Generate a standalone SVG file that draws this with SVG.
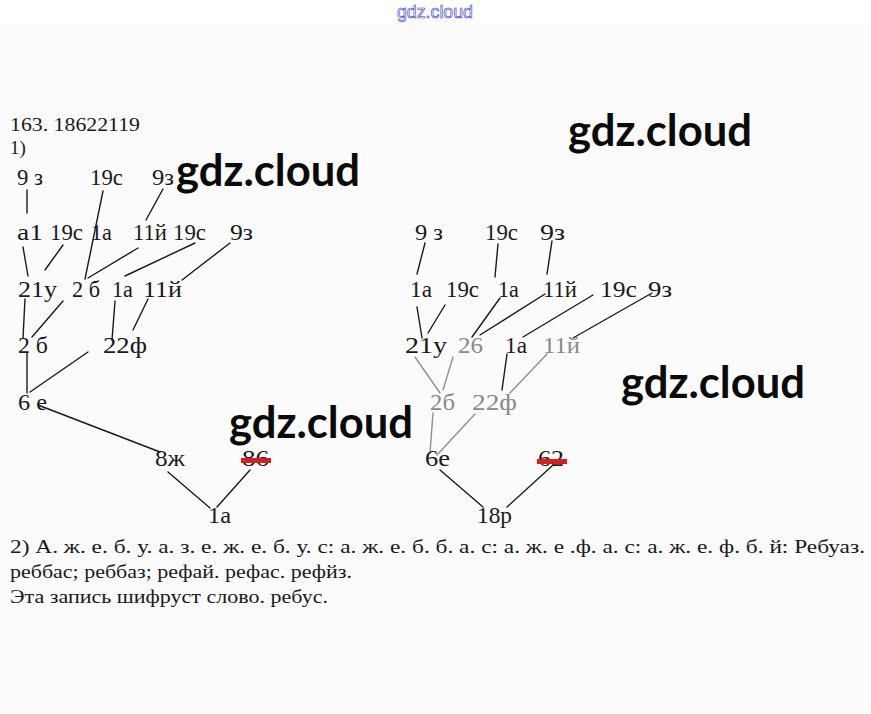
<svg xmlns="http://www.w3.org/2000/svg" width="871" height="714" viewBox="0 0 871 714">
<style>
.t{font-family:"Liberation Serif","DejaVu Serif",serif;font-size:24px;fill:#1a1a1a}
.g{fill:#8a8a8a}
.p{font-family:"Liberation Serif","DejaVu Serif",serif;font-size:19px;fill:#1a1a1a}
.wm{font-family:Lato,"Open Sans",sans-serif;font-weight:bold;font-size:43px;fill:#0a0a0a}
.c line{stroke:#1a1a1a;stroke-width:1.4;stroke-linecap:round}
.c line.f{stroke:#909090}
.strike{fill:#d42020}
</style>
<rect x="0" y="0" width="871" height="714" fill="#ffffff"/>
<rect x="0" y="25" width="871" height="689" fill="#fbfbfb"/>
<text x="435" y="18" text-anchor="middle" style="font-family:'Liberation Sans',Arial,sans-serif;font-size:18px;fill:#ffffff;stroke:#2a2ad0;stroke-width:0.6" textLength="76" lengthAdjust="spacingAndGlyphs">gdz.cloud</text>

<text class="p" x="10" y="131" textLength="130" lengthAdjust="spacingAndGlyphs">163. 18622119</text>
<text class="p" x="10" y="154">1)</text>

<g id="connectors" class="c">
<!-- left tree -->
<line x1="27" y1="190" x2="27" y2="213"/>
<line x1="103" y1="191" x2="85" y2="279"/>
<line x1="163" y1="189" x2="146" y2="220"/>
<line x1="23" y1="247" x2="28" y2="276"/>
<line x1="63" y1="245" x2="45" y2="270"/>
<line x1="138" y1="248" x2="88" y2="278"/>
<line x1="195" y1="243" x2="125" y2="276"/>
<line x1="230" y1="243" x2="182" y2="280"/>
<line x1="25" y1="299" x2="23" y2="338"/>
<line x1="63" y1="301" x2="32" y2="337"/>
<line x1="115" y1="301" x2="112" y2="340"/>
<line x1="148" y1="299" x2="133" y2="330"/>
<line x1="27" y1="353" x2="27" y2="393"/>
<line x1="88" y1="352" x2="30" y2="392"/>
<line x1="38" y1="405" x2="160" y2="452"/>
<line x1="168" y1="472" x2="210" y2="508"/>
<line x1="250" y1="470" x2="217" y2="507"/>
<!-- right tree -->
<line x1="425" y1="243" x2="417" y2="274"/>
<line x1="498" y1="244" x2="495" y2="277"/>
<line x1="552" y1="241" x2="547" y2="274"/>
<line x1="417" y1="307" x2="422" y2="338"/>
<line x1="445" y1="305" x2="428" y2="333"/>
<line x1="500" y1="298" x2="472" y2="337"/>
<line x1="545" y1="294" x2="480" y2="335"/>
<line x1="593" y1="295" x2="523" y2="337"/>
<line x1="652" y1="293" x2="573" y2="338"/>
<line class="f" x1="415" y1="357" x2="440" y2="393"/>
<line class="f" x1="453" y1="357" x2="443" y2="390"/>
<line x1="507" y1="354" x2="502" y2="390"/>
<line class="f" x1="547" y1="354" x2="510" y2="393"/>
<line class="f" x1="433" y1="413" x2="430" y2="453"/>
<line class="f" x1="475" y1="414" x2="437" y2="455"/>
<line x1="440" y1="470" x2="483" y2="507"/>
<line x1="552" y1="466" x2="507" y2="507"/>
</g>

<g id="left-tree">
<g id="L1a"><text class="t" x="17" y="185" textLength="26" lengthAdjust="spacingAndGlyphs">9 з</text></g>
<g id="L1b"><text class="t" x="90" y="185" textLength="33" lengthAdjust="spacingAndGlyphs">19с</text></g>
<g id="L1c"><text class="t" x="152" y="185" textLength="22" lengthAdjust="spacingAndGlyphs">9з</text></g>
<g id="L2a"><text class="t" x="17" y="240" textLength="26" lengthAdjust="spacingAndGlyphs">а1</text></g>
<g id="L2b"><text class="t" x="50" y="240" textLength="33" lengthAdjust="spacingAndGlyphs">19с</text></g>
<g id="L2c"><text class="t" x="91" y="240" textLength="21" lengthAdjust="spacingAndGlyphs">1а</text></g>
<g id="L2d"><text class="t" x="133" y="240" textLength="34" lengthAdjust="spacingAndGlyphs">11й</text></g>
<g id="L2e"><text class="t" x="173" y="240" textLength="33" lengthAdjust="spacingAndGlyphs">19с</text></g>
<g id="L2f"><text class="t" x="230" y="240" textLength="23" lengthAdjust="spacingAndGlyphs">9з</text></g>
<g id="L3a"><text class="t" x="18" y="297" textLength="39" lengthAdjust="spacingAndGlyphs">21у</text></g>
<g id="L3b"><text class="t" x="72" y="297" textLength="28" lengthAdjust="spacingAndGlyphs">2 б</text></g>
<g id="L3c"><text class="t" x="112" y="297" textLength="21" lengthAdjust="spacingAndGlyphs">1а</text></g>
<g id="L3d"><text class="t" x="143" y="297" textLength="39" lengthAdjust="spacingAndGlyphs">11й</text></g>
<g id="L4a"><text class="t" x="18" y="353" textLength="30" lengthAdjust="spacingAndGlyphs">2 б</text></g>
<g id="L4b"><text class="t" x="103" y="353" textLength="44" lengthAdjust="spacingAndGlyphs">22ф</text></g>
<g id="L5a"><text class="t" x="18" y="410" textLength="29" lengthAdjust="spacingAndGlyphs">6 е</text></g>
<g id="L6a"><text class="t" x="155" y="466" textLength="30" lengthAdjust="spacingAndGlyphs">8ж</text></g>
<g id="L6b"><text class="t" x="242" y="466" textLength="27" lengthAdjust="spacingAndGlyphs">86</text><rect class="strike" x="241" y="458" width="30" height="5"/></g>
<g id="L7a"><text class="t" x="208" y="523" textLength="23" lengthAdjust="spacingAndGlyphs">1а</text></g>
</g>

<g id="right-tree">
<g id="R1a"><text class="t" x="415" y="240" textLength="28" lengthAdjust="spacingAndGlyphs">9 з</text></g>
<g id="R1b"><text class="t" x="485" y="240" textLength="33" lengthAdjust="spacingAndGlyphs">19с</text></g>
<g id="R1c"><text class="t" x="540" y="240" textLength="25" lengthAdjust="spacingAndGlyphs">9з</text></g>
<g id="R2a"><text class="t" x="410" y="297" textLength="22" lengthAdjust="spacingAndGlyphs">1а</text></g>
<g id="R2b"><text class="t" x="446" y="297" textLength="33" lengthAdjust="spacingAndGlyphs">19с</text></g>
<g id="R2c"><text class="t" x="498" y="297" textLength="21" lengthAdjust="spacingAndGlyphs">1а</text></g>
<g id="R2d"><text class="t" x="543" y="297" textLength="34" lengthAdjust="spacingAndGlyphs">11й</text></g>
<g id="R2e"><text class="t" x="600" y="297" textLength="37" lengthAdjust="spacingAndGlyphs">19с</text></g>
<g id="R2f"><text class="t" x="648" y="297" textLength="24" lengthAdjust="spacingAndGlyphs">9з</text></g>
<g id="R3a"><text class="t" x="405" y="353" textLength="42" lengthAdjust="spacingAndGlyphs">21у</text></g>
<g id="R3b"><text class="t g" x="458" y="353" textLength="25" lengthAdjust="spacingAndGlyphs">26</text></g>
<g id="R3c"><text class="t" x="505" y="353" textLength="22" lengthAdjust="spacingAndGlyphs">1а</text></g>
<g id="R3d"><text class="t g" x="543" y="353" textLength="37" lengthAdjust="spacingAndGlyphs">11й</text></g>
<g id="R4a"><text class="t g" x="430" y="410" textLength="25" lengthAdjust="spacingAndGlyphs">2б</text></g>
<g id="R4b"><text class="t g" x="472" y="410" textLength="45" lengthAdjust="spacingAndGlyphs">22ф</text></g>
<g id="R5a"><text class="t" x="425" y="466" textLength="25" lengthAdjust="spacingAndGlyphs">6е</text></g>
<g id="R5b"><text class="t" x="538" y="466" textLength="26" lengthAdjust="spacingAndGlyphs">62</text><rect class="strike" x="537" y="459" width="30" height="5"/></g>
<g id="R6a"><text class="t" x="477" y="523" textLength="35" lengthAdjust="spacingAndGlyphs">18р</text></g>
</g>

<g id="answer">
<text class="p" x="10" y="553" textLength="855" lengthAdjust="spacingAndGlyphs">2) А. ж. е. б. у. а. з. е. ж. е. б. у. с: а. ж. е. б. б. а. с: а. ж. е .ф. а. с: а. ж. е. ф. б. й: Ребуаз.</text>
<text class="p" x="10" y="578" textLength="342" lengthAdjust="spacingAndGlyphs">реббас; реббаз; рефай. рефас. рефйз.</text>
<text class="p" x="10" y="603" textLength="318" lengthAdjust="spacingAndGlyphs">Эта запись шифруст слово. ребус.</text>
</g>

<g id="watermarks">
<text class="wm" x="176" y="186" textLength="184" lengthAdjust="spacingAndGlyphs">gdz.cloud</text>
<text class="wm" x="568" y="146" textLength="184" lengthAdjust="spacingAndGlyphs">gdz.cloud</text>
<text class="wm" x="621" y="398" textLength="184" lengthAdjust="spacingAndGlyphs">gdz.cloud</text>
<text class="wm" x="229" y="438" textLength="184" lengthAdjust="spacingAndGlyphs">gdz.cloud</text>
</g>
</svg>
